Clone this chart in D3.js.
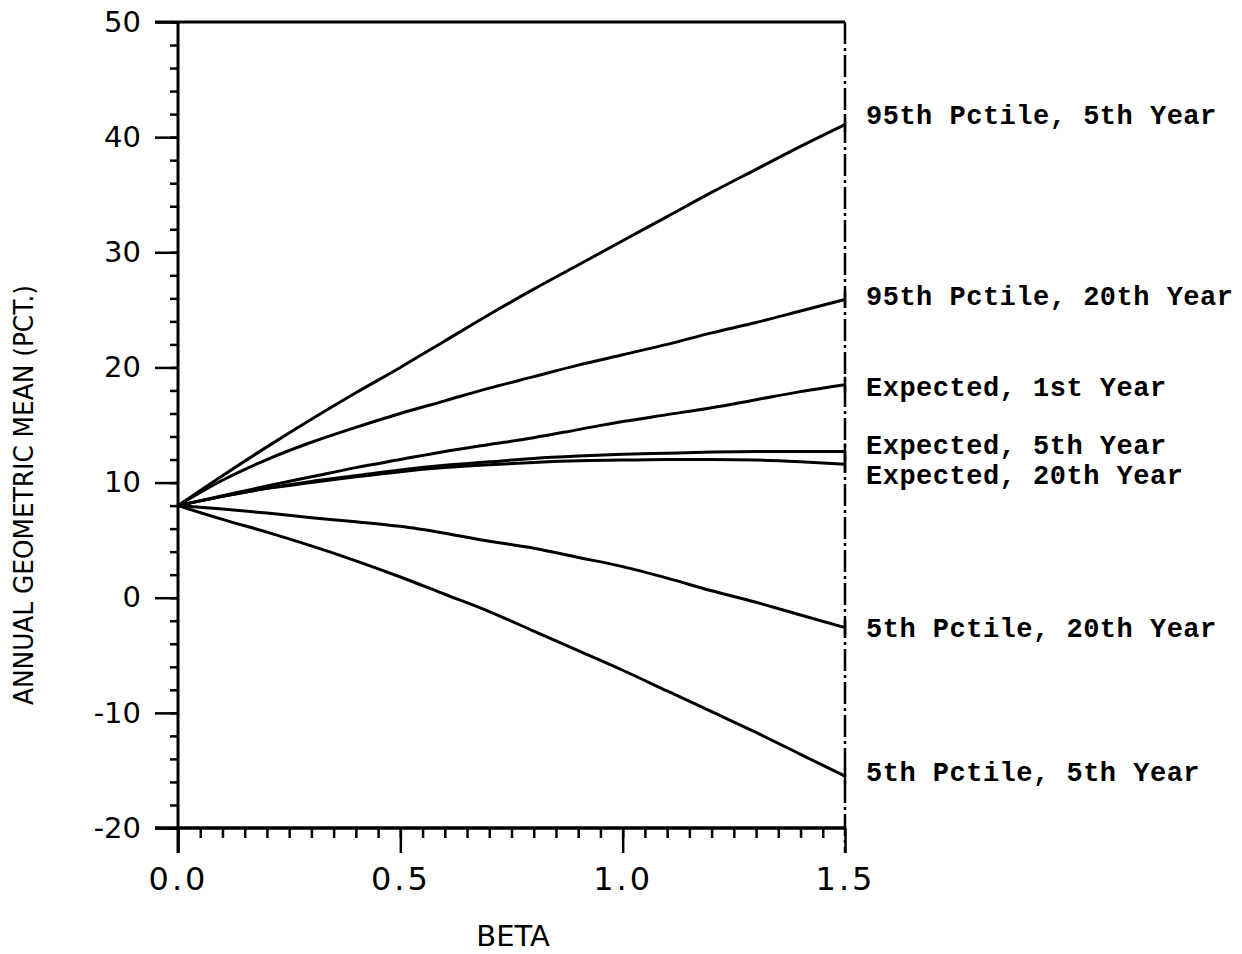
<!DOCTYPE html>
<html>
<head>
<meta charset="utf-8">
<script src="https://cdn.jsdelivr.net/npm/d3@7"></script>
<style>
  body { margin: 0; background: white; }
</style>
</head>
<body>
<div id="my_dataviz"></div>
<script>
// données
var betas = [0, 0.1, 0.2, 0.3, 0.4, 0.5, 0.6, 0.7, 0.8, 0.9, 1.0, 1.1, 1.2, 1.3, 1.4, 1.5]
var p95y5  = [8, 10.6, 13.1, 15.5, 17.8, 20.0, 22.3, 24.6, 26.8, 28.9, 31.0, 33.1, 35.2, 37.2, 39.2, 41.1]
var p95y20 = [8, 10.2, 12.0, 13.5, 14.8, 16.0, 17.1, 18.2, 19.2, 20.2, 21.1, 22.0, 23.0, 23.9, 24.9, 25.9]
var exp1   = [8, 8.85, 9.7, 10.5, 11.3, 12.0, 12.7, 13.3, 13.9, 14.6, 15.3, 15.9, 16.5, 17.2, 17.9, 18.5]
var exp5   = [8, 8.8, 9.5, 10.1, 10.6, 11.1, 11.5, 11.8, 12.1, 12.3, 12.45, 12.55, 12.65, 12.7, 12.7, 12.7]
var exp20  = [8, 8.8, 9.5, 10.0, 10.5, 10.95, 11.3, 11.55, 11.75, 11.9, 11.95, 12.0, 12.0, 11.95, 11.8, 11.6]
var p5y20  = [8, 7.7, 7.35, 6.95, 6.6, 6.2, 5.6, 4.9, 4.3, 3.5, 2.7, 1.7, 0.6, -0.4, -1.5, -2.6]
var p5y5   = [8, 6.8, 5.7, 4.5, 3.2, 1.8, 0.3, -1.2, -2.9, -4.6, -6.3, -8.1, -9.9, -11.7, -13.6, -15.5]

var seriesNames = ["95th Pctile, 5th Year", "95th Pctile, 20th Year", "Expected, 1st Year",
  "Expected, 5th Year", "Expected, 20th Year", "5th Pctile, 20th Year", "5th Pctile, 5th Year"]
var seriesValues = [p95y5, p95y20, exp1, exp5, exp20, p5y20, p5y5]

var yMajorTicks = [-20, -10, 0, 10, 20, 30, 40, 50]
var xMajorTicks = [0, 0.5, 1.0, 1.5]
var xTickLabels = ["0.0", "0.5", "1.0", "1.5"]

// décalage vertical des étiquettes (px) pour éviter les chevauchements
var labelShift = [-10, -4, 2, -7, 10, 0, -5]

// dimensions du graphique
var width = 1242
var height = 954

var svg = d3.select("#my_dataviz")
  .append("svg")
    .attr("width", width)
    .attr("height", height)

var x = d3.scaleLinear()
  .domain([0, 1.5])
  .range([178, 845])

var y = d3.scaleLinear()
  .domain([-20, 50])
  .range([828, 22])

var tickFont = "'DejaVu Sans', sans-serif"

// graduations secondaires de l'axe y
svg.append("g")
  .attr("transform", "translate(" + x(0) + ",0)")
  .call(d3.axisLeft(y).tickValues(d3.range(-20, 51, 2)).tickSize(8).tickFormat(""))
  .call(function(g){ g.select(".domain").remove() })
  .selectAll("line").attr("stroke", "#000").attr("stroke-width", 2.5)

// graduations principales de l'axe y
var yAxis = svg.append("g")
  .attr("transform", "translate(" + x(0) + ",0)")
  .call(d3.axisLeft(y).tickValues(yMajorTicks).tickSize(23).tickPadding(14).tickFormat(d3.format("d")))
  .call(function(g){ g.select(".domain").remove() })
yAxis.selectAll("line").attr("stroke", "#000").attr("stroke-width", 2.5)
yAxis.selectAll("text")
  .style("font-family", tickFont)
  .style("font-size", "29px")
  .attr("fill", "#000")
  .text(function(d){ return d < 0 ? "-" + Math.abs(d) : d })

// graduations secondaires de l'axe x
svg.append("g")
  .attr("transform", "translate(0," + y(-20) + ")")
  .call(d3.axisBottom(x).tickValues(d3.range(0, 1.5, 0.05)).tickSize(10).tickFormat(""))
  .call(function(g){ g.select(".domain").remove() })
  .selectAll("line").attr("stroke", "#000").attr("stroke-width", 2.5)

// graduations principales de l'axe x
var xAxis = svg.append("g")
  .attr("transform", "translate(0," + y(-20) + ")")
  .call(d3.axisBottom(x).tickValues(xMajorTicks).tickSize(25).tickPadding(14)
    .tickFormat(function(d, i){ return xTickLabels[i] }))
  .call(function(g){ g.select(".domain").remove() })
xAxis.selectAll("line").attr("stroke", "#000").attr("stroke-width", 2.5)
xAxis.selectAll("text")
  .style("font-family", tickFont)
  .style("font-size", "32px")
  .style("letter-spacing", "3px")
  .attr("fill", "#000")

// cadre : haut, gauche, bas en trait plein
svg.append("line")
  .attr("x1", x(0) - 23).attr("x2", x(1.5))
  .attr("y1", y(50)).attr("y2", y(50))
  .attr("stroke", "#000").attr("stroke-width", 3)
svg.append("line")
  .attr("x1", x(0)).attr("x2", x(0))
  .attr("y1", y(50)).attr("y2", y(-20) + 25)
  .attr("stroke", "#000").attr("stroke-width", 3)
svg.append("line")
  .attr("x1", x(0) - 23).attr("x2", x(1.5))
  .attr("y1", y(-20)).attr("y2", y(-20))
  .attr("stroke", "#000").attr("stroke-width", 3.5)

// bord droit en trait mixte
svg.append("line")
  .attr("x1", x(1.5)).attr("x2", x(1.5))
  .attr("y1", y(50)).attr("y2", y(-20) + 25)
  .attr("stroke", "#000").attr("stroke-width", 2.5)
  .style("stroke-dasharray", "22,4,3,4")

// courbes
var line = d3.line()
  .x(function(d){ return x(d[0]) })
  .y(function(d){ return y(d[1]) })
  .curve(d3.curveMonotoneX)

seriesValues.forEach(function(vals, i) {
  var pts = betas.map(function(b, j){ return [b, vals[j]] })
  svg.append("path")
    .datum(pts)
    .attr("d", line)
    .attr("fill", "none")
    .attr("stroke", "#000")
    .attr("stroke-width", 3)

  var last = vals[vals.length - 1]
  // petit trait vertical en bout de courbe
  svg.append("line")
    .attr("x1", x(1.5)).attr("x2", x(1.5))
    .attr("y1", y(last) - 8).attr("y2", y(last) + 8)
    .attr("stroke", "#000").attr("stroke-width", 2.5)

  svg.append("text")
    .attr("x", 866)
    .attr("y", y(last) + labelShift[i])
    .attr("dy", "0.35em")
    .style("font-family", "'Liberation Mono', 'Courier New', monospace")
    .style("font-weight", "bold")
    .style("font-size", "27px")
    .style("letter-spacing", "0.5px")
    .text(seriesNames[i])
})

// titres des axes
svg.append("text")
  .attr("x", 513)
  .attr("y", 946)
  .attr("text-anchor", "middle")
  .style("font-family", tickFont)
  .style("font-size", "29px")
  .text("BETA")

svg.append("text")
  .attr("transform", "translate(33,495) rotate(-90)")
  .attr("text-anchor", "middle")
  .attr("textLength", 420)
  .attr("lengthAdjust", "spacingAndGlyphs")
  .style("font-family", tickFont)
  .style("font-size", "27px")
  .text("ANNUAL GEOMETRIC MEAN (PCT.)")
</script>
</body>
</html>
